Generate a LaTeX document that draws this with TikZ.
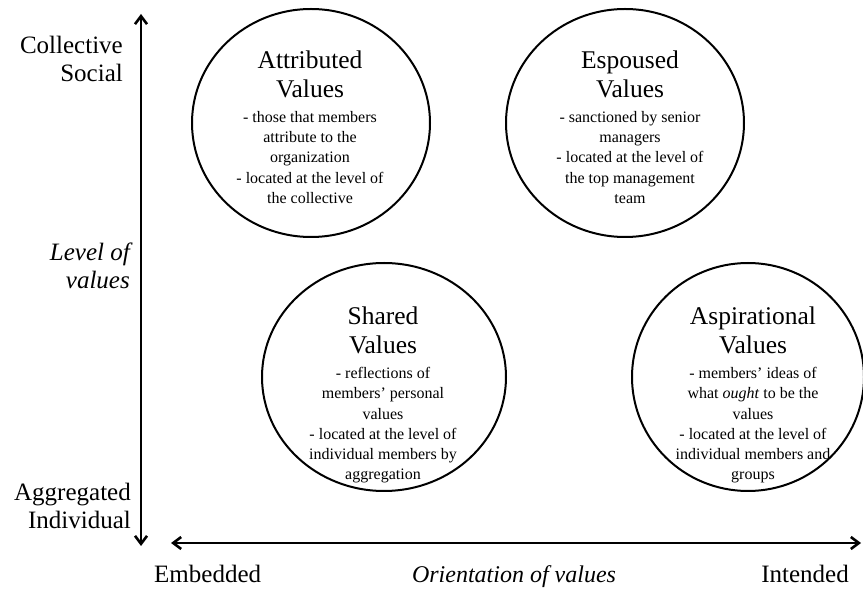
\documentclass[tikz,border=0pt]{standalone}
\usepackage{fontspec}
\setmainfont{Liberation Serif}
\usetikzlibrary{shapes.geometric,arrows.meta}
\begin{document}
\begin{tikzpicture}[x=1pt,y=-1pt,
  valcircle/.style={ellipse, draw, line width=2pt, minimum width=238pt, minimum height=228pt, inner sep=0pt},
  titletext/.style={anchor=north, align=center, inner sep=0pt, font=\fontsize{25.5}{29}\selectfont},
  bodytext/.style={anchor=north, align=center, inner sep=0pt, font=\fontsize{16}{20.3}\selectfont},
  axislabel/.style={inner sep=0pt, font=\fontsize{25}{28}\selectfont},
  axisline/.style={line width=2.6pt, {Straight Barb[length=8pt,width=12pt]}-{Straight Barb[length=8pt,width=12pt]}}]
\useasboundingbox (0,0) rectangle (863,593);
% circles
\node[valcircle] (attr) at (311,123) {};
\node[valcircle] (esp) at (625,123) {};
\node[valcircle, minimum width=244pt] (shared) at (384,377) {};
\node[valcircle, minimum width=232pt] (asp) at (748,377) {};
% texts
\node[titletext] (attrT) at (310,51) {Attributed\\Values};
\node[bodytext] (attrB) at (310,111) {- those that members\\attribute to the\\organization\\- located at the level of\\the collective};
\node[titletext] (espT) at (630,51) {Espoused\\Values};
\node[bodytext] (espB) at (630,111) {- sanctioned by senior\\managers\\- located at the level of\\the top management\\team};
\node[titletext] (shT) at (383,307) {Shared\\Values};
\node[bodytext] (shB) at (383,367) {- reflections of\\members’ personal\\values\\- located at the level of\\individual members by\\aggregation};
\node[titletext] (aspT) at (753,307) {Aspirational\\Values};
\node[bodytext] (aspB) at (753,367) {- members’ ideas of\\what \textit{ought} to be the\\values\\- located at the level of\\individual members and\\groups};
% axes
\coordinate (vtop) at (141,14);
\coordinate (vbot) at (141,546);
\coordinate (hleft) at (171,543);
\coordinate (hright) at (861,543);
\draw[axisline] (vtop) -- (vbot);
\draw[axisline] (hleft) -- (hright);
% axis labels
\node[axislabel, anchor=north east, align=right] (coll) at (123,36) {Collective\\Social};
\node[axislabel, anchor=north east, align=right, font=\fontsize{25}{28}\selectfont\itshape] (lev) at (130,243) {Level of\\values};
\node[axislabel, anchor=north east, align=right] (aggr) at (131,483) {Aggregated\\Individual};
\node[axislabel, anchor=base west] (emb) at (154,583) {Embedded};
\node[axislabel, anchor=base, font=\fontsize{24}{28}\selectfont\itshape] (orient) at (514,583) {Orientation of values};
\node[axislabel, anchor=base east] (intd) at (849,583) {Intended};
\end{tikzpicture}
\end{document}
